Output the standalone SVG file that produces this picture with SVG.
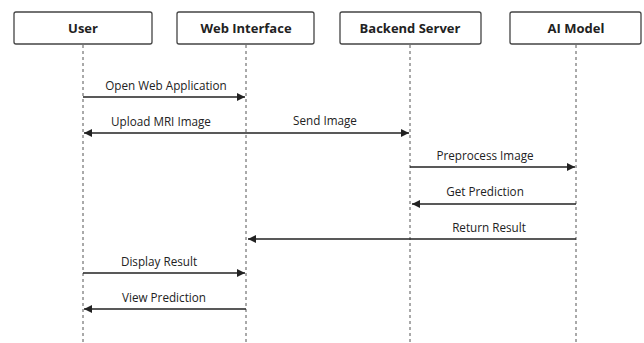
<svg xmlns="http://www.w3.org/2000/svg" width="644" height="343" viewBox="0 0 644 343">
<defs>
<marker id="ah" viewBox="0 0 10 10" refX="10" refY="5" markerWidth="11" markerHeight="8" markerUnits="userSpaceOnUse" orient="auto-start-reverse">
<path d="M0,0 L10,5 L0,10 z" fill="#222"/>
</marker>
<style>
.box{fill:#fff;stroke:#444;stroke-width:1.3}
.hdr{font-family:"Open Sans","Noto Sans",sans-serif;font-weight:bold;font-size:13px;fill:#222;text-anchor:middle}
.life{stroke:#555;stroke-width:1;stroke-dasharray:3,3}
.msg{stroke:#222;stroke-width:1.5;fill:none}
.lbl{font-family:"Open Sans","Noto Sans",sans-serif;font-size:11.7px;fill:#222;text-anchor:middle}
</style>
</defs>
<rect width="644" height="343" fill="#fff"/>
<g id="lifelines">
<line class="life" x1="83" y1="45" x2="83" y2="343"/>
<line class="life" x1="246" y1="45" x2="246" y2="343"/>
<line class="life" x1="410" y1="45" x2="410" y2="343"/>
<line class="life" x1="576" y1="45" x2="576" y2="343"/>
</g>
<g id="user"><rect class="box" x="14" y="12" width="138" height="32" rx="2"/><text class="hdr" x="83" y="33">User</text></g>
<g id="web"><rect class="box" x="177" y="12" width="137" height="32" rx="2"/><text class="hdr" x="246" y="33">Web Interface</text></g>
<g id="backend"><rect class="box" x="340" y="12" width="141" height="32" rx="2"/><text class="hdr" x="410" y="33">Backend Server</text></g>
<g id="ai"><rect class="box" x="510" y="12" width="131" height="32" rx="2"/><text class="hdr" x="576" y="33">AI Model</text></g>
<g id="connectors">
<line class="msg" x1="83" y1="97" x2="245" y2="97" marker-end="url(#ah)"/>
<line class="msg" x1="84" y1="133" x2="409" y2="133" marker-start="url(#ah)" marker-end="url(#ah)"/>
<line class="msg" x1="410" y1="167" x2="575" y2="167" marker-end="url(#ah)"/>
<line class="msg" x1="576" y1="204" x2="412" y2="204" marker-end="url(#ah)"/>
<line class="msg" x1="576" y1="239" x2="248" y2="239" marker-end="url(#ah)"/>
<line class="msg" x1="83" y1="273" x2="245" y2="273" marker-end="url(#ah)"/>
<line class="msg" x1="246" y1="309" x2="84" y2="309" marker-end="url(#ah)"/>
</g>
<g id="labels">
<text class="lbl" x="166" y="90">Open Web Application</text>
<text class="lbl" x="161" y="126">Upload MRI Image</text>
<text class="lbl" x="325" y="125">Send Image</text>
<text class="lbl" x="485" y="160">Preprocess Image</text>
<text class="lbl" x="485" y="196">Get Prediction</text>
<text class="lbl" x="489" y="232">Return Result</text>
<text class="lbl" x="159" y="266">Display Result</text>
<text class="lbl" x="164" y="302">View Prediction</text>
</g>
</svg>
